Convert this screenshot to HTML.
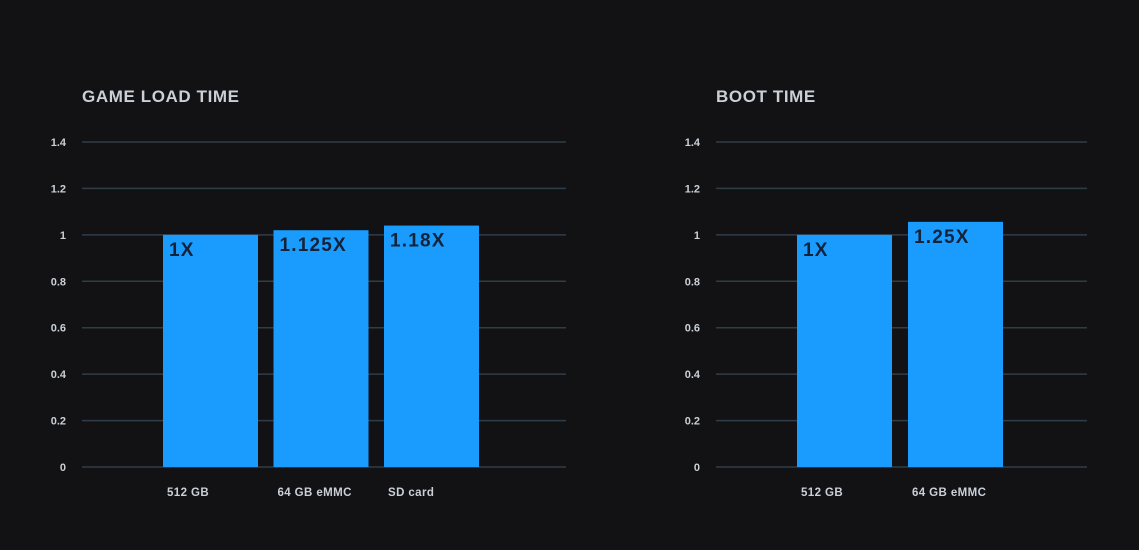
<!DOCTYPE html>
<html><head><meta charset="utf-8"><style>
html,body{margin:0;padding:0;background:#121214;}
svg{display:block;font-family:"Liberation Sans",sans-serif;}
</style></head><body>
<svg id="c" width="1139" height="550"></svg>
<script>
const leftCategories=["512 GB","64 GB eMMC","SD card"];
const leftValues=[1.0,1.02,1.04];
const leftLabels=["1X","1.125X","1.18X"];
const rightCategories=["512 GB","64 GB eMMC"];
const rightValues=[1.0,1.056];
const rightLabels=["1X","1.25X"];
const yTicks=[0,0.2,0.4,0.6,0.8,1,1.2,1.4];
const yTickLabels=["0","0.2","0.4","0.6","0.8","1","1.2","1.4"];
const NS="http://www.w3.org/2000/svg";
const svg=document.getElementById('c');
function el(t,a,txt){const e=document.createElementNS(NS,t);for(const k in a)e.setAttribute(k,a[k]);if(txt!==undefined)e.textContent=txt;svg.appendChild(e);return e;}
function y(v){return 467-v*(325/1.4);}
function panel(p,title,cats,vals,labs){
  const t=el('text',{x:p.gx0,y:102,fill:'#c9d0d8','font-size':17,'font-weight':'bold','letter-spacing':0.6},title);
  
  
  yTicks.forEach((v,i)=>{
    const g=el('line',{x1:p.gx0,x2:p.gx1,y1:y(v),y2:y(v),stroke:'#2f3d48','stroke-width':1.5});
    
    
    const l=el('text',{x:p.lx,y:y(v)+4,fill:'#c9d0d8','font-size':11,'font-weight':'bold','text-anchor':'end'},yTickLabels[i]);
    
    
  });
  cats.forEach((c,i)=>{
    const x=p.bx0+i*p.step;
    const b=el('rect',{x:x,y:y(vals[i]),width:95,height:y(0)-y(vals[i]),fill:'#1a9cff'});
    
    
    const v=el('text',{x:x+6,y:y(vals[i])+21,fill:'#14233a','font-size':19,'font-weight':'bold','letter-spacing':1.2},labs[i]);
    
    
    const cl=el('text',{x:x+4,y:496,fill:'#c9d0d8','font-size':11.5,'font-weight':'bold','letter-spacing':0.4},c);
    
    
  });
}
panel({id:'game-load',gx0:82,gx1:566,lx:66,bx0:163,step:110.5},"GAME LOAD TIME",leftCategories,leftValues,leftLabels);
panel({id:'boot',gx0:716,gx1:1087,lx:700,bx0:797,step:111},"BOOT TIME",rightCategories,rightValues,rightLabels);
</script>
</body></html>
